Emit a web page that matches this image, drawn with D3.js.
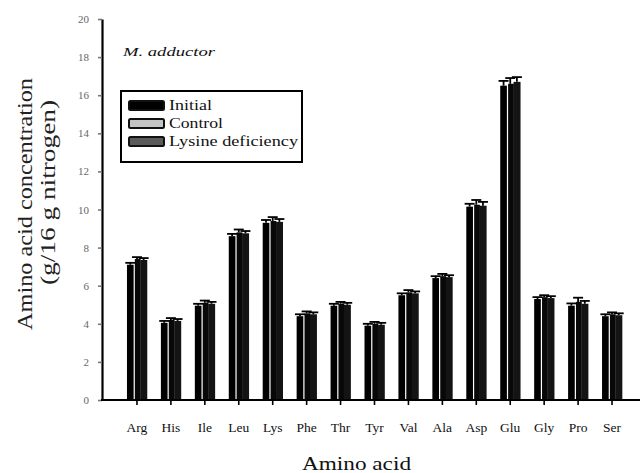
<!DOCTYPE html>
<html>
<head>
<meta charset="utf-8">
<script src="https://cdn.jsdelivr.net/npm/d3@7"></script>
<style>
  html, body { margin: 0; padding: 0; background: #fff; }
  svg { display: block; }
  text { font-family: "Times New Roman", "Liberation Serif", Times, serif; }
</style>
</head>
<body>
<svg id="chart" width="640" height="473"></svg>
<script>
// Amino acid composition of M. adductor (g/16 g nitrogen)
const categories = ["Arg","His","Ile","Leu","Lys","Phe","Thr","Tyr","Val","Ala","Asp","Glu","Gly","Pro","Ser"];
const seriesNames = ["Initial","Control","Lysine deficiency"];
const initialValues = [7.1, 4.05, 4.95, 8.6, 9.3, 4.4, 4.95, 3.9, 5.5, 6.4, 10.15, 16.5, 5.3, 4.95, 4.4];
const controlValues = [7.4, 4.2, 5.1, 8.8, 9.4, 4.55, 5.05, 4.0, 5.65, 6.5, 10.25, 16.6, 5.4, 5.15, 4.5];
const lysineValues  = [7.35, 4.15, 5.05, 8.75, 9.35, 4.5, 5.0, 3.95, 5.6, 6.45, 10.2, 16.7, 5.35, 5.05, 4.45];
const initialErr = [0.1, 0.1, 0.1, 0.12, 0.15, 0.1, 0.1, 0.1, 0.1, 0.1, 0.15, 0.25, 0.1, 0.12, 0.1];
const controlErr = [0.1, 0.1, 0.12, 0.15, 0.2, 0.1, 0.1, 0.1, 0.12, 0.12, 0.25, 0.3, 0.1, 0.22, 0.1];
const lysineErr  = [0.1, 0.1, 0.1, 0.12, 0.15, 0.1, 0.1, 0.1, 0.1, 0.1, 0.2, 0.25, 0.1, 0.15, 0.1];
const yTicks = [0, 2, 4, 6, 8, 10, 12, 14, 16, 18, 20];

const barColors = ["#000000", "#080808", "#141414"];

const values = [initialValues, controlValues, lysineValues];
const errors = [initialErr, controlErr, lysineErr];

const svg = d3.select("#chart");

const x = d3.scaleBand().domain(categories).range([120, 629]).padding(0);
const groupW = 20;
const xs = d3.scaleBand().domain(seriesNames).range([0, groupW]).padding(0);
const y = d3.scaleLinear().domain([0, 20]).range([400, 19]);

// bars
const rows = [];
categories.forEach((c, i) => {
  seriesNames.forEach((s, j) => {
    rows.push({cat: c, ser: s, j: j, v: values[j][i], e: errors[j][i]});
  });
});

const bx = d => x(d.cat) + (x.bandwidth() - groupW) / 2 + xs(d.ser);

svg.append("g").selectAll("rect")
  .data(rows).join("rect")
  .attr("x", d => bx(d) + (d.j === 1 ? 1.2 : 0))
  .attr("width", d => xs.bandwidth() - (d.j === 1 ? 1.2 : 0) + (d.j === 0 ? 0 : 0.3))
  .attr("y", d => y(d.v))
  .attr("height", d => y(0) - y(d.v))
  .attr("fill", d => barColors[d.j]);

// error bars
const eg = svg.append("g").attr("stroke", "#000").attr("stroke-width", 1.8);
rows.forEach(d => {
  const cx = bx(d) + xs.bandwidth() / 2;
  eg.append("line").attr("x1", cx).attr("x2", cx).attr("y1", y(d.v)).attr("y2", y(d.v + d.e));
  eg.append("line").attr("x1", cx - 5).attr("x2", cx + 5).attr("y1", y(d.v + d.e)).attr("y2", y(d.v + d.e));
});

// y axis
const yAxis = d3.axisLeft(y).tickValues(yTicks).tickSize(4).tickSizeOuter(0).tickPadding(9);
const gy = svg.append("g").attr("transform", "translate(102,0)").call(yAxis);
gy.select(".domain").attr("stroke", "#000").attr("stroke-width", 2.2);
gy.selectAll(".tick line").attr("stroke", "#777").attr("stroke-width", 1.6);
gy.selectAll(".tick text").attr("fill", "#666").attr("font-size", 11)
  .attr("font-family", null);

// x axis
const xAxis = d3.axisBottom(x).tickSize(5).tickSizeOuter(0).tickPadding(17);
const gx = svg.append("g").attr("transform", "translate(0,400)").call(xAxis);
gx.select(".domain").remove();
gx.append("line").attr("x1", 101).attr("x2", 640).attr("y1", 0).attr("y2", 0)
  .attr("stroke", "#000").attr("stroke-width", 2.2);
gx.selectAll(".tick line").attr("stroke", "#000").attr("stroke-width", 1.6);
gx.selectAll(".tick text").attr("fill", "#111").attr("font-size", 13.5)
  .attr("font-family", null);

// axis titles
svg.append("text")
  .attr("x", 302).attr("y", 470)
  .attr("font-size", 18).attr("fill", "#111")
  .attr("textLength", 109).attr("lengthAdjust", "spacingAndGlyphs")
  .text("Amino acid");

const yt = svg.append("g").attr("fill", "#222");
yt.append("text")
  .attr("transform", "translate(32,330) rotate(-90)")
  .attr("font-size", 20)
  .attr("textLength", 252).attr("lengthAdjust", "spacingAndGlyphs")
  .text("Amino acid concentration");
yt.append("text")
  .attr("transform", "translate(55,285) rotate(-90)")
  .attr("font-size", 20)
  .attr("textLength", 185).attr("lengthAdjust", "spacingAndGlyphs")
  .text("(g/16 g nitrogen)");

// panel label
svg.append("text")
  .attr("x", 123).attr("y", 56)
  .attr("font-size", 13).attr("font-style", "italic").attr("fill", "#111")
  .attr("textLength", 92).attr("lengthAdjust", "spacingAndGlyphs")
  .text("M. adductor");

// legend
const lg = svg.append("g");
lg.append("rect").attr("x", 121).attr("y", 91).attr("width", 181).attr("height", 71)
  .attr("fill", "#fff").attr("stroke", "#000").attr("stroke-width", 2);
const swatchFill = ["#000000", "#c4c4c4", "#5a5a5a"];
const rowY = [101, 119, 137];
const labelW = [43, 54, 129];
seriesNames.forEach((s, j) => {
  lg.append("rect").attr("x", 129).attr("y", rowY[j]).attr("width", 35).attr("height", 9)
    .attr("rx", 1.5)
    .attr("fill", swatchFill[j]).attr("stroke", "#111").attr("stroke-width", 2);
  lg.append("text").attr("x", 169).attr("y", rowY[j] + 9)
    .attr("font-size", 14).attr("fill", "#111")
    .attr("textLength", labelW[j]).attr("lengthAdjust", "spacingAndGlyphs")
    .text(s);
});
</script>
</body>
</html>
